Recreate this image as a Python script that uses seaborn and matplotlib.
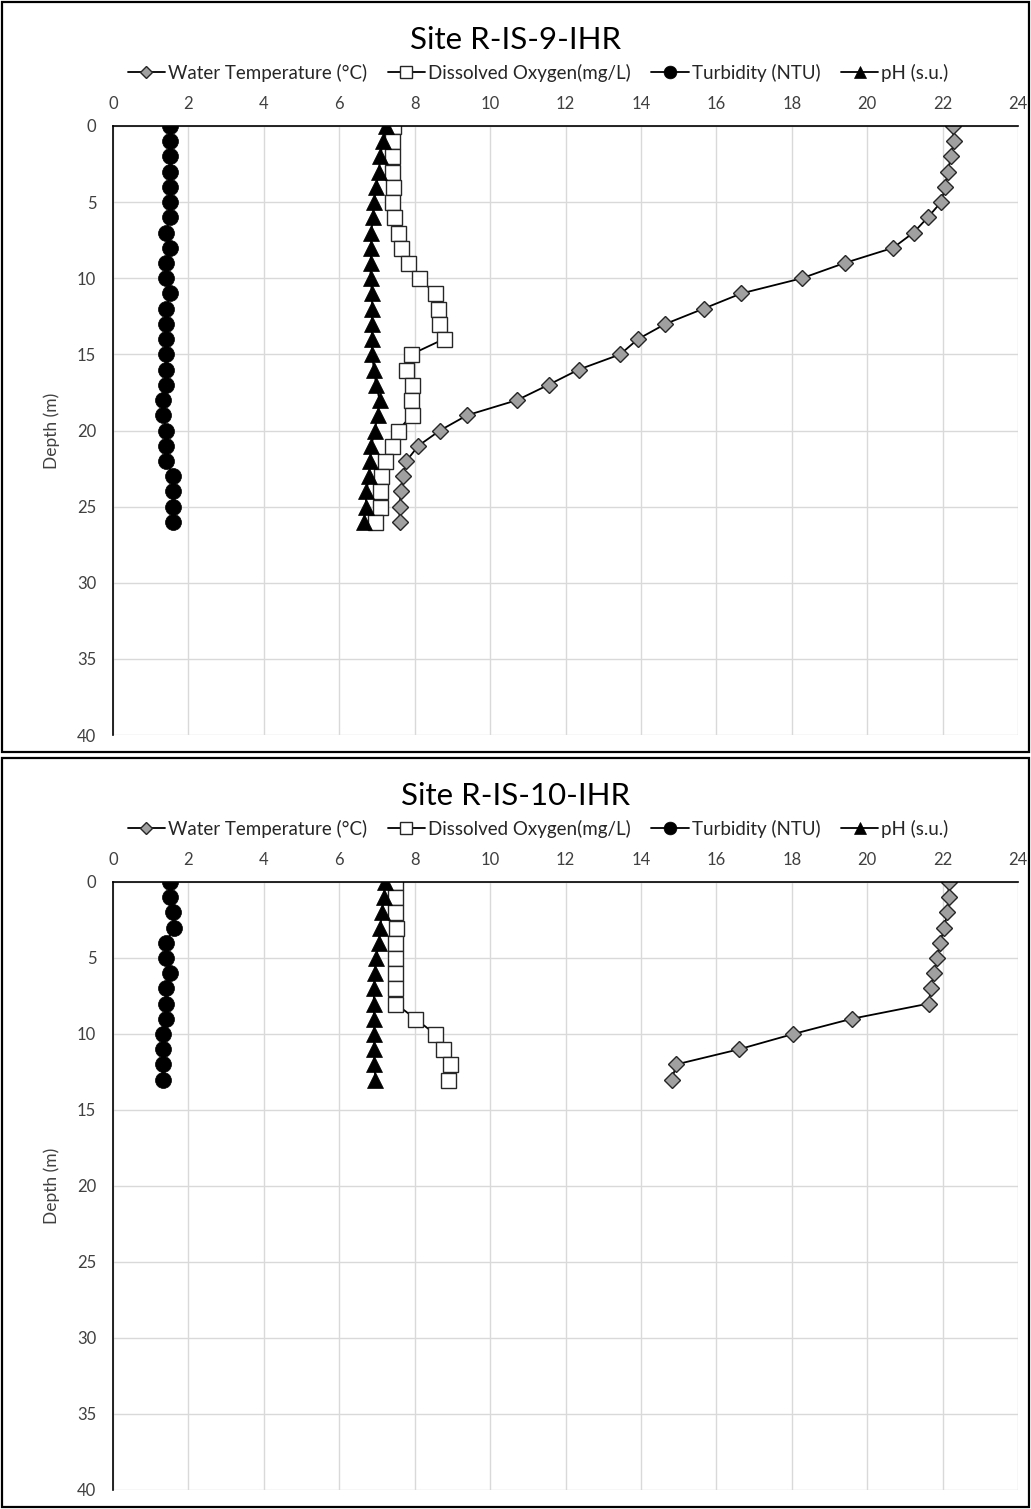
import matplotlib
matplotlib.use("Agg")
import matplotlib.pyplot as plt
from matplotlib.lines import Line2D
from matplotlib.patches import Rectangle
import seaborn as sns
import pandas as pd

# ---------------- data ----------------
depth_9 = list(range(27))
temp_9 = [22.27, 22.30, 22.22, 22.14, 22.07, 21.96, 21.61, 21.23, 20.69, 19.40,
          18.27, 16.66, 15.66, 14.65, 13.92, 13.45, 12.35, 11.55, 10.72, 9.39,
          8.67, 8.10, 7.78, 7.69, 7.63, 7.60, 7.60]
do_9 = [7.42, 7.40, 7.40, 7.40, 7.42, 7.40, 7.45, 7.57, 7.63, 7.81,
        8.12, 8.54, 8.62, 8.64, 8.77, 7.91, 7.76, 7.93, 7.90, 7.92,
        7.56, 7.40, 7.22, 7.12, 7.07, 7.07, 6.94]
turb_9 = [1.52, 1.52, 1.52, 1.52, 1.52, 1.52, 1.50, 1.41, 1.50, 1.41,
          1.41, 1.52, 1.41, 1.41, 1.41, 1.41, 1.41, 1.41, 1.32, 1.32,
          1.41, 1.41, 1.41, 1.60, 1.60, 1.60, 1.60]
ph_9 = [7.25, 7.16, 7.09, 7.05, 6.98, 6.92, 6.89, 6.85, 6.85, 6.83,
        6.83, 6.87, 6.87, 6.87, 6.87, 6.87, 6.92, 6.98, 7.07, 7.02,
        6.94, 6.85, 6.82, 6.79, 6.72, 6.70, 6.65]

depth_10 = list(range(14))
temp_10 = [22.16, 22.16, 22.12, 22.05, 21.93, 21.86, 21.77, 21.69, 21.63, 19.59,
           18.04, 16.61, 14.94, 14.82]
do_10 = [7.49, 7.49, 7.49, 7.50, 7.49, 7.49, 7.49, 7.49, 7.49, 8.02,
         8.54, 8.74, 8.94, 8.88]
turb_10 = [1.52, 1.52, 1.59, 1.61, 1.41, 1.41, 1.52, 1.41, 1.41, 1.41,
           1.32, 1.32, 1.32, 1.32]
ph_10 = [7.22, 7.18, 7.13, 7.09, 7.05, 6.98, 6.94, 6.93, 6.91, 6.93,
         6.93, 6.93, 6.93, 6.96]

titles = ["Site R-IS-9-IHR", "Site R-IS-10-IHR"]
series_names = ["Water Temperature (°C)", "Dissolved Oxygen(mg/L)",
                "Turbidity (NTU)", "pH (s.u.)"]
x_ticks = list(range(0, 25, 2))
y_ticks = list(range(0, 41, 5))

# ---------------- style ----------------
sns.set_theme(style="white")
plt.rcParams["font.family"] = ["Lato", "DejaVu Sans"]

styles = [
    dict(marker="D", markersize=8.2, markerfacecolor="#a0a0a0", markeredgecolor="#262626", markeredgewidth=1.0),
    dict(marker="s", markersize=10.8, markerfacecolor="white", markeredgecolor="#262626", markeredgewidth=1.0),
    dict(marker="o", markersize=11.5, markerfacecolor="black", markeredgecolor="black", markeredgewidth=0.5),
    dict(marker="^", markersize=11, markerfacecolor="black", markeredgecolor="black", markeredgewidth=0.5),
]

fig = plt.figure(figsize=(10.31, 15.09), dpi=100)
H = 1509.0

panels = [
    dict(depth=depth_9, vals=[temp_9, do_9, turb_9, ph_9], title=titles[0],
         ax_top=126, ax_bot=735, title_y=40, leg_y=73, frame=(2, 752)),
    dict(depth=depth_10, vals=[temp_10, do_10, turb_10, ph_10], title=titles[1],
         ax_top=882, ax_bot=1490, title_y=796, leg_y=829, frame=(758, 1507)),
]

for p in panels:
    left = 113 / 1031.0
    right = 1018 / 1031.0
    bottom = 1 - p["ax_bot"] / H
    height = (p["ax_bot"] - p["ax_top"]) / H
    ax = fig.add_axes([left, bottom, right - left, height])

    for name, vals, st in zip(series_names, p["vals"], styles):
        df = pd.DataFrame({"value": vals, "depth": p["depth"]})
        sns.lineplot(data=df, x="value", y="depth", sort=False, orient="y",
                     color="black", linewidth=1.3, ax=ax, legend=False,
                     **st)

    ax.set_xlim(0, 24)
    ax.set_ylim(40, 0)
    ax.set_xticks(x_ticks)
    ax.set_yticks(y_ticks)
    ax.xaxis.tick_top()
    ax.tick_params(axis="both", length=0, labelsize=12, colors="#404040")
    ax.tick_params(axis="x", pad=10)
    ax.tick_params(axis="y", pad=12)
    ax.set_xlabel("")
    ax.set_ylabel("Depth (m)", fontsize=12.5, color="#404040", labelpad=12)
    ax.grid(True, color="#d9d9d9", linewidth=1.0)
    for s in ["right", "bottom"]:
        ax.spines[s].set_visible(False)
    for s in ["top", "left"]:
        ax.spines[s].set_color("black")
        ax.spines[s].set_linewidth(1.2)

    fig.text(0.5, 1 - p["title_y"] / H, p["title"], ha="center", va="center",
             fontsize=22.5, color="black")

    handles = [Line2D([0], [0], color="black", linewidth=1.3,
                      **{**st, "markersize": st["markersize"] * 0.8})
               for st in styles]
    fig.legend(handles, series_names, loc="center",
               bbox_to_anchor=(538 / 1031.0, 1 - p["leg_y"] / H), ncol=4,
               frameon=False, fontsize=13.5, handlelength=2.0,
               handletextpad=0.15, columnspacing=1.1, labelcolor="#262626")

    y0, y1 = p["frame"]
    fig.patches.append(Rectangle((2 / 1031.0, 1 - y1 / H), 1027 / 1031.0,
                                 (y1 - y0) / H, transform=fig.transFigure,
                                 fill=False, edgecolor="black", linewidth=1.6))

fig.savefig("out.png", dpi=100, facecolor="white")
